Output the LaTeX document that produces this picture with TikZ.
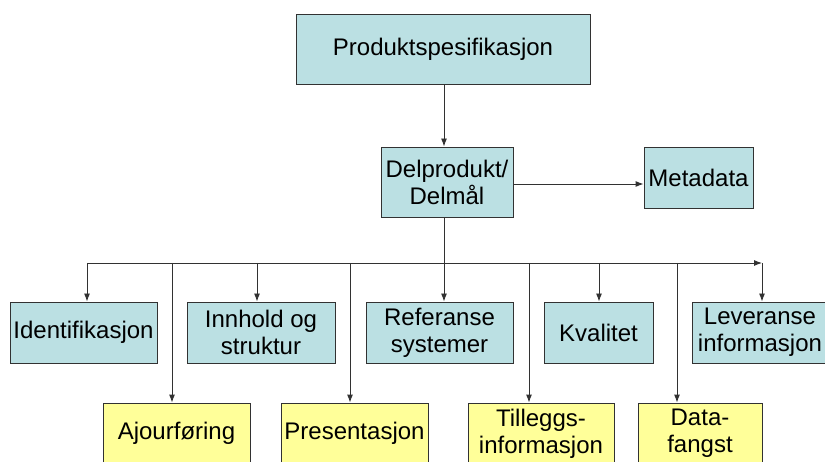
\documentclass[tikz,border=0pt]{standalone}
\usepackage{fontspec}
\setmainfont{Liberation Sans}
\usepackage{tikz}
\usetikzlibrary{arrows.meta,positioning,calc}

\definecolor{boxteal}{RGB}{187,224,227}
\definecolor{boxyellow}{RGB}{255,255,153}
\definecolor{edgegray}{RGB}{50,50,50}

\tikzset{
  tealbox/.style={rectangle, draw=edgegray, fill=boxteal, line width=0.9pt, align=center, inner sep=0pt,
    minimum height=61pt, font=\fontsize{24}{27}\selectfont},
  yellowbox/.style={tealbox, fill=boxyellow},
  link/.style={-{Latex[length=8pt,width=6pt]}, draw=edgegray, line width=0.9pt}
}

\begin{document}
\begin{tikzpicture}[x=1pt,y=-1pt]
        \useasboundingbox (0,0) rectangle (825,462);
        \clip (0,0) rectangle (825,462);
        \node (prod) [tealbox, minimum width=294pt, minimum height=70pt] at (443,49) {Produktspesifikasjon};
        \node (del) [tealbox, minimum width=132pt, minimum height=70pt] at (447,182) {Delprodukt/\\Delmål};
        \node (meta) [tealbox, minimum width=109pt] at (698.5,177.5) {Metadata};
        % first row
        \node (ident) [tealbox, minimum width=147pt] at (83.5,332.5) {Identifikasjon};
        \node (innhold) [tealbox, minimum width=148pt] at (261,332.5) {Innhold og\\struktur};
        \node (ref) [tealbox, minimum width=147pt] at (439.5,332.5) {Referanse\\systemer};
        \node (kval) [tealbox, minimum width=109pt] at (598.5,332.5) {Kvalitet};
        \node (lev) [tealbox, minimum width=136pt] at (760,332.5) {Leveranse\\informasjon};
        % second row
        \node (ajour) [yellowbox, minimum width=147pt] at (176.5,433.5) {Ajourføring};
        \node (pres) [yellowbox, minimum width=147pt] at (354.5,433.5) {Presentasjon};
        \node (till) [yellowbox, minimum width=146pt] at (541,433.5) {Tilleggs-\\informasjon};
        \node (data) [yellowbox, minimum width=124pt] at (700,433.5) {Data-\\fangst};
        % bus
        \coordinate (bmid) at (444,263);
        \coordinate (bl) at (87,263);
        \coordinate (br) at (762,263);
        \coordinate (b1) at (172,263);
        \coordinate (b2) at (257,263);
        \coordinate (b3) at (350,263);
        \coordinate (b4) at (529,263);
        \coordinate (b5) at (599,263);
        \coordinate (b6) at (677,263);
        \draw[link] (prod.south -| bmid) -- (del.north -| bmid);
        \draw[link] (del.east |- meta) ++(0,6.5) -- ($(meta.west)+(0,6.5)$);
        \draw[edgegray, line width=0.9pt] (del.south -| bmid) -- (bmid);
        \draw[link] (bl) -- (br);
        \draw[link] (bl) -- (bl |- ident.north);
        \draw[link] (b2) -- (b2 |- innhold.north);
        \draw[link] (bmid) -- (bmid |- ref.north);
        \draw[link] (b5) -- (b5 |- kval.north);
        \draw[link] (br) -- (br |- lev.north);
        \draw[link] (b1) -- (b1 |- ajour.north);
        \draw[link] (b3) -- (b3 |- pres.north);
        \draw[link] (b4) -- (b4 |- till.north);
        \draw[link] (b6) -- (b6 |- data.north);
    \end{tikzpicture}
\end{document}
